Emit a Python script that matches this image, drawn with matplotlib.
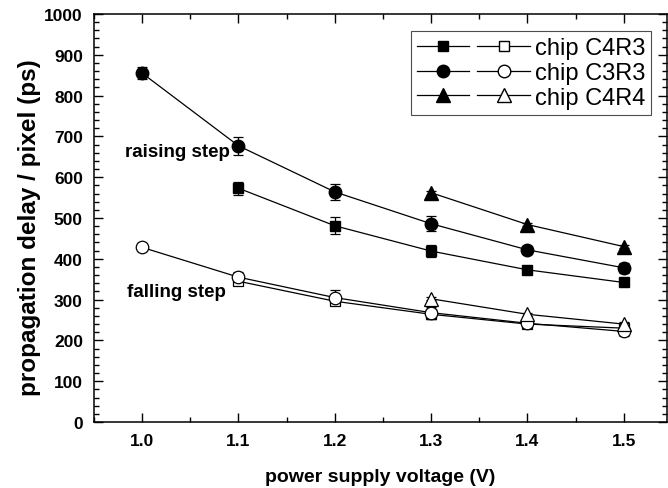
import matplotlib.pyplot as plt
from matplotlib.legend_handler import HandlerTuple
from matplotlib.lines import Line2D
from matplotlib.ticker import MultipleLocator

plt.rcParams['font.family'] = ['Liberation Sans', 'DejaVu Sans']

# data
v_c3r3 = [1.0, 1.1, 1.2, 1.3, 1.4, 1.5]
v_c4r3 = [1.1, 1.2, 1.3, 1.4, 1.5]
v_c4r4 = [1.3, 1.4, 1.5]

rise_c3r3 = [855, 677, 564, 486, 422, 378]
rise_c3r3_err = [15, 22, 19, 18, 10, 12]
rise_c4r3 = [573, 481, 419, 373, 342]
rise_c4r3_err = [16, 21, 14, 6, 6]
rise_c4r4 = [562, 484, 430]
rise_c4r4_err = [5, 4, 4]

fall_c3r3 = [428, 355, 305, 268, 242, 222]
fall_c3r3_err = [10, 12, 18, 15, 8, 10]
fall_c4r3 = [345, 296, 264, 240, 230]
fall_c4r3_err = [10, 10, 12, 8, 8]
fall_c4r4 = [302, 264, 240]
fall_c4r4_err = [4, 4, 4]

chips = ['chip C4R3', 'chip C3R3', 'chip C4R4']
marks = ['s', 'o', '^']
msizes = [7.5, 9, 9.5]

fig = plt.figure(figsize=(6.68, 4.89), dpi=100)
ax = fig.add_axes([94 / 668, 66 / 489, 573 / 668, 408 / 489])

series = [
    (v_c4r3, rise_c4r3, rise_c4r3_err, fall_c4r3, fall_c4r3_err),
    (v_c3r3, rise_c3r3, rise_c3r3_err, fall_c3r3, fall_c3r3_err),
    (v_c4r4, rise_c4r4, rise_c4r4_err, fall_c4r4, fall_c4r4_err),
]

for (xv, r, re, f, fe), m, ms in zip(series, marks, msizes):
    ax.errorbar(xv, r, yerr=re, color='black', marker=m, ms=ms, mfc='black',
                mec='black', lw=0.9, elinewidth=0.9, capsize=3.5, capthick=0.9, zorder=3)
    ax.errorbar(xv, f, yerr=fe, color='black', marker=m, ms=ms, mfc='white',
                mec='black', mew=0.9, lw=0.9, elinewidth=0.9, capsize=3.5, capthick=0.9, zorder=3)

ax.text(0.982, 664, 'raising step', fontsize=13.5, fontweight='bold', va='center', ha='left')
ax.text(0.984, 321, 'falling step', fontsize=13.5, fontweight='bold', va='center', ha='left')

ax.set_xlim(0.95, 1.545)
ax.set_ylim(0, 1000)
ax.xaxis.set_major_locator(MultipleLocator(0.1))
ax.xaxis.set_minor_locator(MultipleLocator(0.05))
ax.yaxis.set_major_locator(MultipleLocator(100))
ax.yaxis.set_minor_locator(MultipleLocator(20))
ax.xaxis.set_major_formatter(plt.FuncFormatter(lambda v, p: f'{v:.1f}'))
ax.tick_params(which='both', direction='in', top=True, right=True, width=1)
ax.tick_params(which='major', length=6.5, labelsize=12.5, pad=8)
ax.tick_params(which='minor', length=3.5)
for lab in ax.get_xticklabels() + ax.get_yticklabels():
    lab.set_fontweight('bold')
for s in ax.spines.values():
    s.set_linewidth(1.1)

ax.set_xlabel('power supply voltage (V)', fontsize=14, fontweight='bold')
ax.set_ylabel('propagation delay / pixel (ps)', fontsize=17.5, fontweight='bold')
ax.xaxis.set_label_coords(0.5, -55 / 408, transform=ax.transAxes)
ax.yaxis.set_label_coords(-64 / 573, 0.48, transform=ax.transAxes)
ax.xaxis.label.set_va('center')
ax.yaxis.label.set_va('center')

handles = []
for m, ms in zip(marks, msizes):
    h1 = Line2D([], [], color='black', lw=0.9, marker=m, ms=ms, mfc='black', mec='black')
    h2 = Line2D([], [], color='black', lw=0.9, marker=m, ms=ms, mfc='white', mec='black')
    handles.append((h1, h2))

leg = ax.legend(handles, chips, handler_map={tuple: HandlerTuple(ndivide=None, pad=0.35)},
                loc='upper right', bbox_to_anchor=(0.972, 0.958), borderaxespad=0,
                fontsize=17, handlelength=4.8, handletextpad=0.2, labelspacing=0.12,
                borderpad=0.25, fancybox=False, framealpha=1, edgecolor='0.3')
leg.get_frame().set_linewidth(0.8)

fig.savefig('out.png', dpi=100)
